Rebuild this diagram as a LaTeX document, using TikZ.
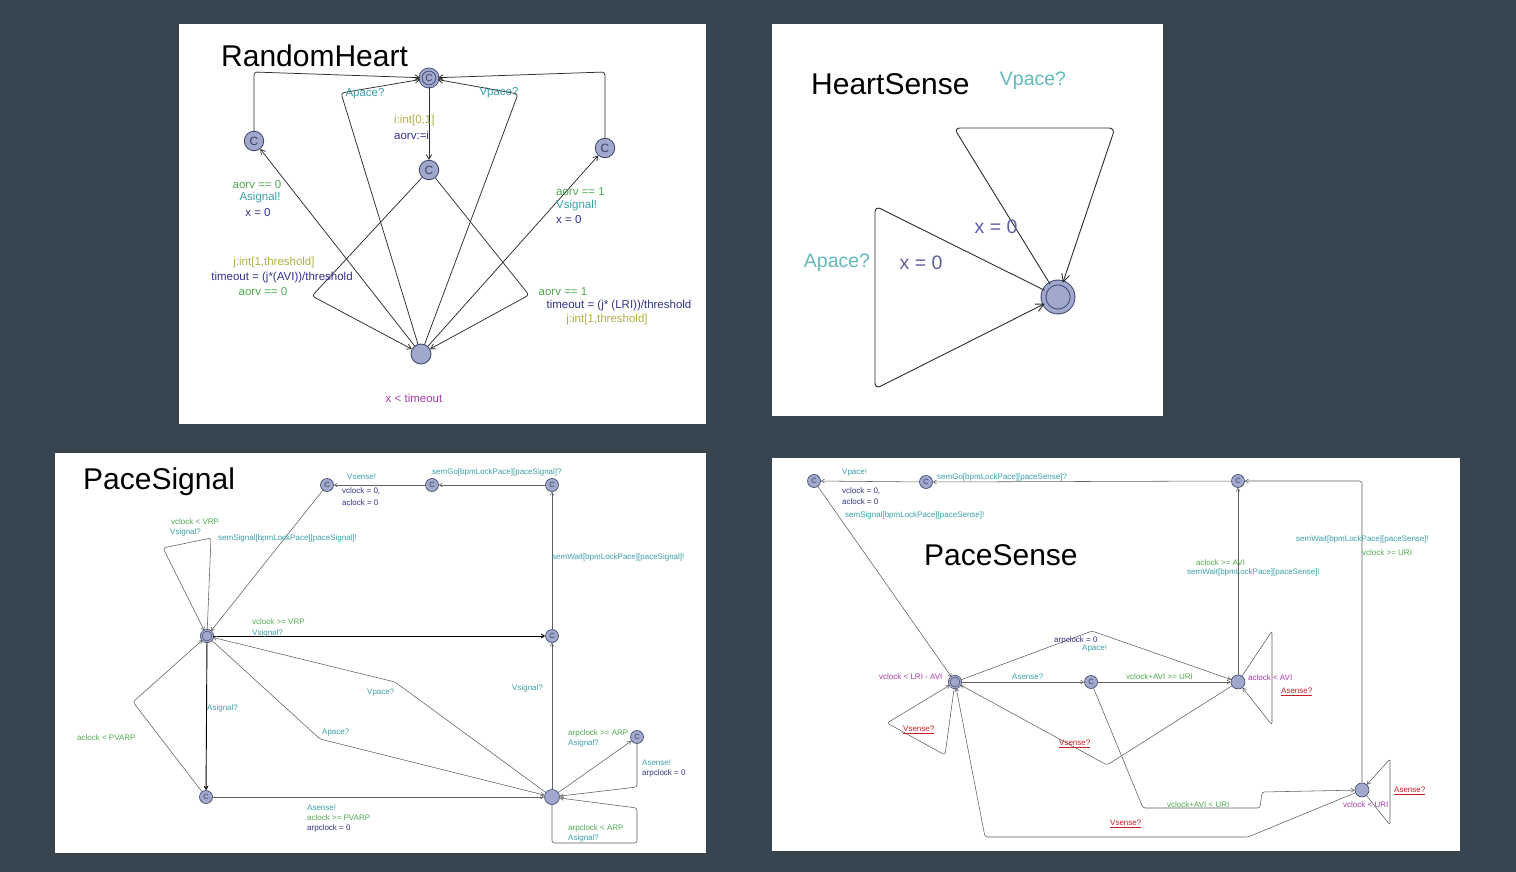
\documentclass[tikz,border=0pt]{standalone}
\usepackage{fontspec}
\setmainfont{Liberation Sans}
\usetikzlibrary{arrows.meta}
\definecolor{bg}{RGB}{54,69,79}
\definecolor{guard}{RGB}{80,170,80}
\definecolor{sync}{RGB}{60,160,170}
\definecolor{assign}{RGB}{50,50,140}
\definecolor{sel}{RGB}{175,175,70}
\definecolor{inv}{RGB}{170,60,170}
\definecolor{err}{RGB}{205,30,40}
\definecolor{locf}{RGB}{160,168,205}
\definecolor{locb}{RGB}{60,65,100}
\definecolor{edgec}{RGB}{45,45,45}
\definecolor{edgeg}{RGB}{95,95,95}
\definecolor{hsync}{RGB}{100,185,190}
\definecolor{hassign}{RGB}{95,95,165}
\begin{document}
\begin{tikzpicture}[x=1pt,y=-1pt,
  every node/.style={inner sep=0pt},
  panel/.style={fill=white,draw=none},
  titletx/.style={font=\fontsize{30}{34}\selectfont,text=black,anchor=base west},
  rht/.style={font=\fontsize{11.5}{13}\selectfont},
  pst/.style={font=\fontsize{8}{9}\selectfont,anchor=west},
  hst/.style={font=\fontsize{19.5}{22}\selectfont},
  rhloc/.style={circle,draw=locb,fill=locf,line width=0.8pt,minimum size=19.5pt,font=\fontsize{12}{12}\selectfont,text=locb},
  rhinit/.style={rhloc,double=locf,double distance=2.2pt,line width=0.8pt,minimum size=17pt,font=\fontsize{10}{10}\selectfont},
  psloc/.style={circle,draw=locb,fill=locf,line width=0.6pt,minimum size=13pt,font=\fontsize{7.5}{7.5}\selectfont,text=locb},
  psinit/.style={psloc,double=locf,double distance=1.4pt,line width=0.55pt,minimum size=11.5pt},
  hsinit/.style={circle,draw=locb,fill=locf,double=locf,double distance=4pt,line width=0.9pt,minimum size=29pt},
  edge/.style={draw=edgec,line width=0.75pt,rounded corners=3pt,-{Straight Barb[length=4.5pt,width=5.5pt]}},
  sedge/.style={draw=edgeg,line width=0.55pt,rounded corners=2.5pt,-{Straight Barb[length=3.2pt,width=3.8pt]}},
  hedge/.style={draw=edgec,line width=0.9pt,rounded corners=6pt,-{Straight Barb[length=8pt,width=8pt]}}
]
\fill[bg] (0,0) rectangle (1516,872);
\useasboundingbox (0,0) rectangle (1516,872);
\fill[panel] (179,24) rectangle (706,424);
\fill[panel] (772,24) rectangle (1163,416);
\fill[panel] (55,453) rectangle (706,853);
\fill[panel] (772,458) rectangle (1460,851);

% ---------------- RandomHeart ----------------
\node[titletx] (t1) at (221,67) {RandomHeart};
\node[rhinit] (rhT) at (429,78) {C};
\node[rhloc] (rhL) at (254,141) {C};
\node[rhloc] (rhM) at (429,170) {C};
\node[rhloc] (rhR) at (605,148) {C};
\node[rhloc,minimum size=20pt] (rhB) at (421,354) {};
\draw[edge] (rhL) -- (254,72) -- (rhT);
\draw[edge] (rhR) -- (605,72) -- (rhT);
\draw[edge] (rhB) -- (341,93) -- (rhT);
\draw[edge] (rhB) -- (518,94) -- (rhT);
\draw[edge] (rhT) -- (rhM);
\draw[edge] (rhB) -- (rhL);
\draw[edge] (rhB) -- (rhR);
\draw[edge] (rhM) -- (312,296) -- (rhB);
\draw[edge] (rhM) -- (529,295) -- (rhB);
\node[rht,text=sync] (r1) at (365,94) {Apace?};
\node[rht,text=sync] (r2) at (499,93) {Vpace?};
\node[rht,text=sel,anchor=west] (r3) at (394,121) {i:int[0,1]};
\node[rht,text=assign,anchor=west] (r4) at (394,135) {aorv:=i};
\node[rht,text=guard] (r5) at (257,185) {aorv == 0};
\node[rht,text=sync] (r6) at (260,198) {Asignal!};
\node[rht,text=assign] (r7) at (258,213) {x = 0};
\node[rht,text=guard,anchor=west] (r8) at (556,192) {aorv == 1};
\node[rht,text=sync,anchor=west] (r9) at (556,206) {Vsignal!};
\node[rht,text=assign,anchor=west] (r10) at (556,220) {x = 0};
\node[rht,text=sel] (r11) at (274,263) {j:int[1,threshold]};
\node[rht,text=assign] (r12) at (282,278) {timeout = (j*(AVI))/threshold};
\node[rht,text=guard] (r13) at (263,292) {aorv == 0};
\node[rht,text=guard] (r14) at (563,292) {aorv == 1};
\node[rht,text=assign] (r15) at (619,306) {timeout = (j* (LRI))/threshold};
\node[rht,text=sel] (r16) at (607,320) {j:int[1,threshold]};
\node[rht,text=inv] (r17) at (414,398) {x < timeout};

% ---------------- HeartSense ----------------
\node[titletx] (t2) at (811,95) {HeartSense};
\node[hsinit] (hsN) at (1058,297) {};
\draw[hedge] (hsN) -- (954,128) -- (1115,128) -- (hsN);
\draw[hedge] (hsN) -- (875,206) -- (875,389) -- (hsN);
\node[hst,text=hsync] (h1) at (1033,81) {Vpace?};
\node[hst,text=hassign] (h2) at (996,227) {x = 0};
\node[hst,text=hsync] (h3) at (837,263) {Apace?};
\node[hst,text=hassign] (h4) at (921,263) {x = 0};

% ---------------- PaceSignal ----------------
\node[titletx] (t3) at (83,489) {PaceSignal};
\node[psinit] (psM) at (207,636) {};
\node[psloc] (psC1) at (327,485) {C};
\node[psloc] (psC2) at (432,485) {C};
\node[psloc] (psC3) at (552,485) {C};
\node[psloc] (psCM) at (552,636) {C};
\node[psloc] (psCB) at (206,797) {C};
\node[psloc,minimum size=15pt] (psB) at (552,797) {};
\node[psloc] (psCS) at (637,737) {C};
\draw[sedge] (psC3) -- (psC2);
\draw[sedge] (psC2) -- (psC1);
\draw[sedge] (psC1) -- (psM);
\draw[sedge] (psM) -- (211,538) -- (163,548) -- (psM);
\draw[sedge,draw=black,line width=0.9pt] (psM) -- (psCM);
\draw[sedge] (psCM) -- (psC3);
\draw[sedge] (psB) -- (psCM);
\draw[sedge,draw=black,line width=0.9pt] (psM) -- (psCB);
\draw[sedge] (psCB) -- (133,702) -- (psM);
\draw[sedge] (psCB) -- (psB);
\draw[sedge] (psB) -- (395,682) -- (psM);
\draw[sedge] (psM) -- (320,739) -- (psB);
\draw[sedge] (psB) -- (psCS);
\draw[sedge] (psCS) -- (637,787) -- (psB);
\draw[sedge] (psB) -- (552,843) -- (637,843) -- (637,808) -- (psB);
\node[pst,text=sync] (p1) at (347,477) {Vsense!};
\node[pst,text=assign] (p2) at (342,491) {vclock = 0,};
\node[pst,text=assign] (p3) at (342,503) {aclock = 0};
\node[pst,text=guard] (p4) at (171,522) {vclock < VRP};
\node[pst,text=sync] (p5) at (170,532) {Vsignal?};
\node[pst,text=sync] (p6) at (218,538) {semSignal[bpmLockPace][paceSignal]!};
\node[pst,text=guard] (p7) at (252,622) {vclock >= VRP};
\node[pst,text=sync] (p8) at (252,633) {Vsignal?};
\node[pst,text=sync] (p9) at (432,472) {semGo[bpmLockPace][paceSignal]?};
\node[pst,text=sync] (p10) at (552,557) {semWait[bpmLockPace][paceSignal]!};
\node[pst,text=sync] (p11) at (207,708) {Asignal?};
\node[pst,text=guard] (p12) at (77,738) {aclock < PVARP};
\node[pst,text=sync] (p13) at (322,733) {Apace?};
\node[pst,text=sync] (p14) at (367,693) {Vpace?};
\node[pst,text=sync] (p15) at (307,808) {Asense!};
\node[pst,text=guard] (p16) at (307,818) {aclock >= PVARP};
\node[pst,text=assign] (p17) at (307,828) {arpclock = 0};
\node[pst,text=sync] (p18) at (512,688) {Vsignal?};
\node[pst,text=guard] (p19) at (568,733) {arpclock >= ARP};
\node[pst,text=sync] (p20) at (568,743) {Asignal?};
\node[pst,text=sync] (p21) at (642,763) {Asense!};
\node[pst,text=assign] (p22) at (642,773) {arpclock = 0};
\node[pst,text=guard] (p23) at (568,828) {arpclock < ARP};
\node[pst,text=sync] (p24) at (568,838) {Asignal?};

% ---------------- PaceSense ----------------
\node[titletx] (t4) at (924,565) {PaceSense};
\node[psloc] (pnTL) at (814,481) {C};
\node[psloc] (pnTM) at (926,482) {C};
\node[psloc] (pnTR) at (1238,481) {C};
\node[psinit] (pnM) at (955,682) {};
\node[psloc] (pnC) at (1091,682) {C};
\node[psloc,minimum size=14pt] (pnR) at (1238,682) {};
\node[psloc,minimum size=14pt] (pnB) at (1362,790) {};
\draw[sedge] (pnTM) -- (pnTL);
\draw[sedge] (pnTR) -- (pnTM);
\draw[sedge] (pnTL) -- (pnM);
\draw[sedge] (pnM) -- (pnC);
\draw[sedge] (pnC) -- (pnR);
\draw[sedge] (pnM) -- (1092,631) -- (pnR);
\draw[sedge] (pnR) -- (pnTR);
\draw[sedge] (pnB) -- (1362,481) -- (pnTR);
\draw[sedge] (pnR) -- (1272,631) -- (1272,725) -- (pnR);
\draw[sedge] (pnR) -- (1107,765) -- (pnM);
\draw[sedge] (pnC) -- (1143,808) -- (1260,808) -- (1262,792) -- (pnB);
\draw[sedge] (pnB) -- (1248,837) -- (985,837) -- (pnM);
\draw[sedge] (pnB) -- (1390,825) -- (1390,759) -- (pnB);
\draw[sedge] (pnM) -- (945,755) -- (887,723) -- (pnM);
\node[pst,text=sync] (n1) at (842,473) {Vpace!};
\node[pst,text=assign] (n2) at (842,491) {vclock = 0,};
\node[pst,text=assign] (n3) at (842,502) {aclock = 0};
\node[pst,text=sync] (n4) at (845,515) {semSignal[bpmLockPace][paceSense]!};
\node[pst,text=sync] (n5) at (937,477) {semGo[bpmLockPace][paceSense]?};
\node[pst,text=assign] (n6) at (1054,640) {arpclock = 0};
\node[pst,text=sync] (n7) at (1082,649) {Apace!};
\node[pst,text=sync] (n8) at (1296,539) {semWait[bpmLockPace][paceSense]!};
\node[pst,text=guard] (n9) at (1362,553) {vclock >= URI};
\node[pst,text=guard] (n10) at (1196,563) {aclock >= AVI};
\node[pst,text=sync] (n11) at (1187,572) {semWait[bpmLockPace][paceSense]!};
\node[pst,text=inv] (n12) at (879,677) {vclock < LRI - AVI};
\node[pst,text=sync] (n13) at (1012,677) {Asense?};
\node[pst,text=err] (n14) at (903,730) {\underline{Vsense?}};
\node[pst,text=err] (n15) at (1059,744) {\underline{Vsense?}};
\node[pst,text=guard] (n16) at (1126,677) {vclock+AVI >= URI};
\node[pst,text=inv] (n17) at (1248,678) {aclock < AVI};
\node[pst,text=err] (n18) at (1281,692) {\underline{Asense?}};
\node[pst,text=guard] (n19) at (1167,805) {vclock+AVI < URI};
\node[pst,text=err] (n20) at (1110,824) {\underline{Vsense?}};
\node[pst,text=inv] (n21) at (1343,805) {vclock < URI};
\node[pst,text=err] (n22) at (1394,791) {\underline{Asense?}};
\end{tikzpicture}
\end{document}
